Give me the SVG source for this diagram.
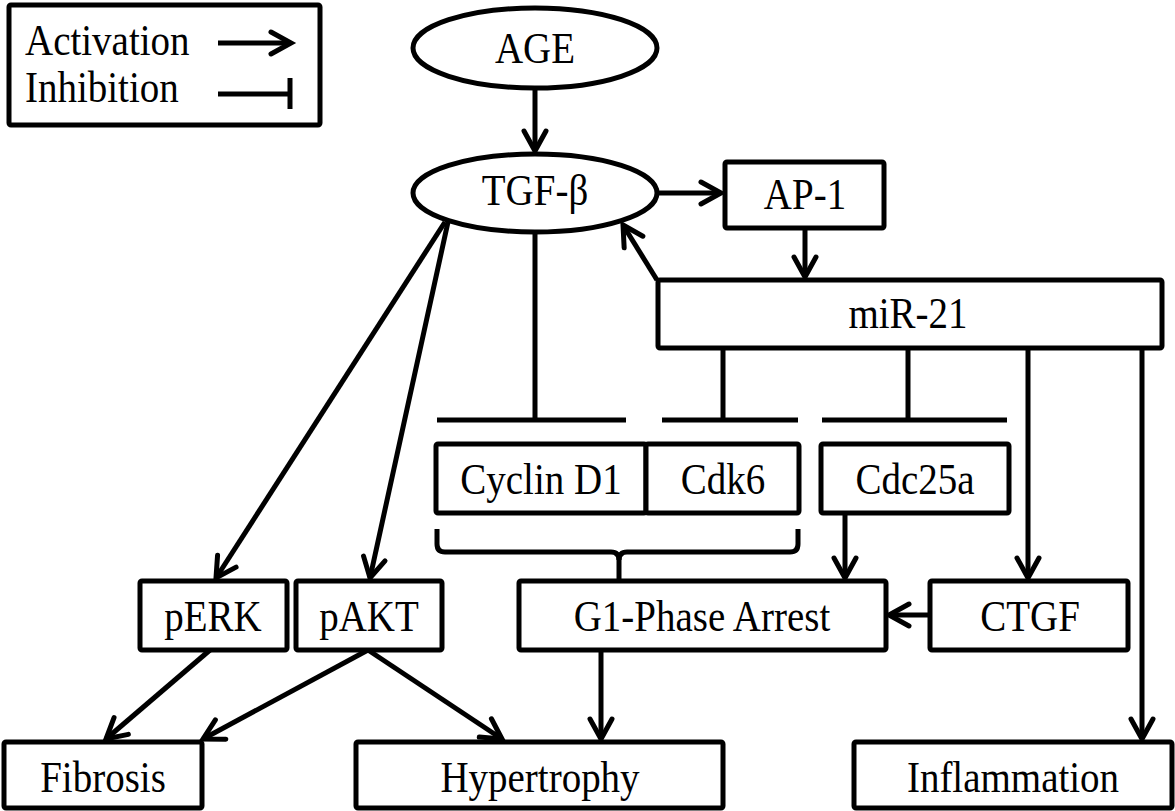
<svg xmlns="http://www.w3.org/2000/svg" width="1175" height="811" viewBox="0 0 1175 811">
<style>
  .box { fill: #fff; stroke: #000; stroke-width: 5; }
  .ln { fill: none; stroke: #000; stroke-width: 5; }
  .t { font-family: "Liberation Serif", "Times New Roman", serif; font-size: 39px; fill: #000; text-anchor: middle; }
  .tl { font-family: "Liberation Serif", "Times New Roman", serif; font-size: 39px; fill: #000; text-anchor: start; }
</style>
<defs>
  <marker id="arr" markerUnits="userSpaceOnUse" markerWidth="30" markerHeight="30" viewBox="-24 -15 30 30" refX="0" refY="0" orient="auto" overflow="visible">
    <path d="M-20,-11 L0,0 L-20,11" fill="none" stroke="#000" stroke-width="5" stroke-linecap="round" stroke-linejoin="miter"/>
  </marker>
</defs>
<rect width="1175" height="811" fill="#fff"/>

<g id="legend">
  <rect class="box" x="9" y="5" width="311" height="120" rx="2"/>
  <text class="tl" transform="translate(25,55) scale(1,1.12)">Activation</text>
  <text class="tl" transform="translate(25,102) scale(1,1.12)">Inhibition</text>
  <line class="ln" x1="218" y1="43" x2="291" y2="43" marker-end="url(#arr)"/>
  <line class="ln" x1="218" y1="94" x2="290" y2="94"/>
  <line class="ln" x1="290" y1="78" x2="290" y2="109"/>
</g>

<g id="connectors">
  <line class="ln" x1="535" y1="88" x2="535" y2="151" marker-end="url(#arr)"/>
  <line class="ln" x1="657" y1="193" x2="721" y2="193" marker-end="url(#arr)"/>
  <line class="ln" x1="805" y1="228" x2="805" y2="277" marker-end="url(#arr)"/>
  <line class="ln" x1="657" y1="280" x2="623" y2="225" marker-end="url(#arr)"/>
  <line class="ln" x1="445" y1="222" x2="216" y2="578" marker-end="url(#arr)"/>
  <line class="ln" x1="448" y1="222" x2="370" y2="578" marker-end="url(#arr)"/>
  <!-- inhibitions -->
  <line class="ln" x1="535" y1="232" x2="535" y2="420"/>
  <line class="ln" x1="437" y1="420" x2="626" y2="420"/>
  <line class="ln" x1="723" y1="348" x2="723" y2="420"/>
  <line class="ln" x1="662" y1="420" x2="798" y2="420"/>
  <line class="ln" x1="908" y1="348" x2="908" y2="420"/>
  <line class="ln" x1="822" y1="420" x2="1007" y2="420"/>
  <!-- miR-21 activations -->
  <line class="ln" x1="1028" y1="348" x2="1028" y2="578" marker-end="url(#arr)"/>
  <line class="ln" x1="1142" y1="348" x2="1142" y2="739" marker-end="url(#arr)"/>
  <line class="ln" x1="845" y1="513" x2="845" y2="578" marker-end="url(#arr)"/>
  <line class="ln" x1="930" y1="615" x2="889" y2="615" marker-end="url(#arr)"/>
  <!-- bracket -->
  <path class="ln" d="M437,529 L437,544 Q437,552 445,552 L611,552 Q619,552 619,560 Q619,552 627,552 L790,552 Q798,552 798,544 L798,529"/>
  <line class="ln" x1="619" y1="556" x2="619" y2="580"/>
  <!-- lower -->
  <line class="ln" x1="601" y1="650" x2="601" y2="739" marker-end="url(#arr)"/>
  <line class="ln" x1="210" y1="650" x2="106" y2="739" marker-end="url(#arr)"/>
  <line class="ln" x1="368" y1="650" x2="203" y2="739" marker-end="url(#arr)"/>
  <line class="ln" x1="368" y1="650" x2="502" y2="739" marker-end="url(#arr)"/>
</g>

<g id="AGE">
  <ellipse class="box" cx="535" cy="48" rx="122" ry="40"/>
  <text class="t" transform="translate(535,63) scale(1,1.12)">AGE</text>
</g>
<g id="TGFb">
  <ellipse class="box" cx="535" cy="193" rx="122" ry="39"/>
  <text class="t" transform="translate(535,205) scale(1,1.12)">TGF-β</text>
</g>
<g id="AP1">
  <rect class="box" x="725" y="162" width="159" height="66" rx="2"/>
  <text class="t" transform="translate(805,209) scale(1,1.12)">AP-1</text>
</g>
<g id="miR21">
  <rect class="box" x="658" y="280" width="504" height="68" rx="2"/>
  <text class="t" transform="translate(908,328) scale(1,1.12)">miR-21</text>
</g>
<g id="CyclinD1">
  <rect class="box" x="436" y="444" width="210" height="69" rx="2"/>
  <text class="t" transform="translate(541,494) scale(1,1.12)">Cyclin D1</text>
</g>
<g id="Cdk6">
  <rect class="box" x="646" y="444" width="153" height="69" rx="2"/>
  <text class="t" transform="translate(723,494) scale(1,1.12)">Cdk6</text>
</g>
<g id="Cdc25a">
  <rect class="box" x="821" y="444" width="188" height="69" rx="2"/>
  <text class="t" transform="translate(915,494) scale(1,1.12)">Cdc25a</text>
</g>
<g id="pERK">
  <rect class="box" x="140" y="581" width="147" height="69" rx="2"/>
  <text class="t" transform="translate(213,631) scale(1,1.12)">pERK</text>
</g>
<g id="pAKT">
  <rect class="box" x="296" y="581" width="146" height="69" rx="2"/>
  <text class="t" transform="translate(369,631) scale(1,1.12)">pAKT</text>
</g>
<g id="G1">
  <rect class="box" x="519" y="581" width="367" height="69" rx="2"/>
  <text class="t" transform="translate(702,631) scale(1,1.12)">G1-Phase Arrest</text>
</g>
<g id="CTGF">
  <rect class="box" x="930" y="581" width="198" height="69" rx="2"/>
  <text class="t" transform="translate(1030,631) scale(1,1.12)">CTGF</text>
</g>
<g id="Fibrosis">
  <rect class="box" x="4" y="742" width="198" height="66" rx="2"/>
  <text class="t" transform="translate(103,792) scale(1,1.12)">Fibrosis</text>
</g>
<g id="Hypertrophy">
  <rect class="box" x="356" y="742" width="367" height="66" rx="2"/>
  <text class="t" transform="translate(540,792) scale(1,1.12)">Hypertrophy</text>
</g>
<g id="Inflammation">
  <rect class="box" x="854" y="742" width="318" height="66" rx="2"/>
  <text class="t" transform="translate(1013,792) scale(1,1.12)">Inflammation</text>
</g>
</svg>
